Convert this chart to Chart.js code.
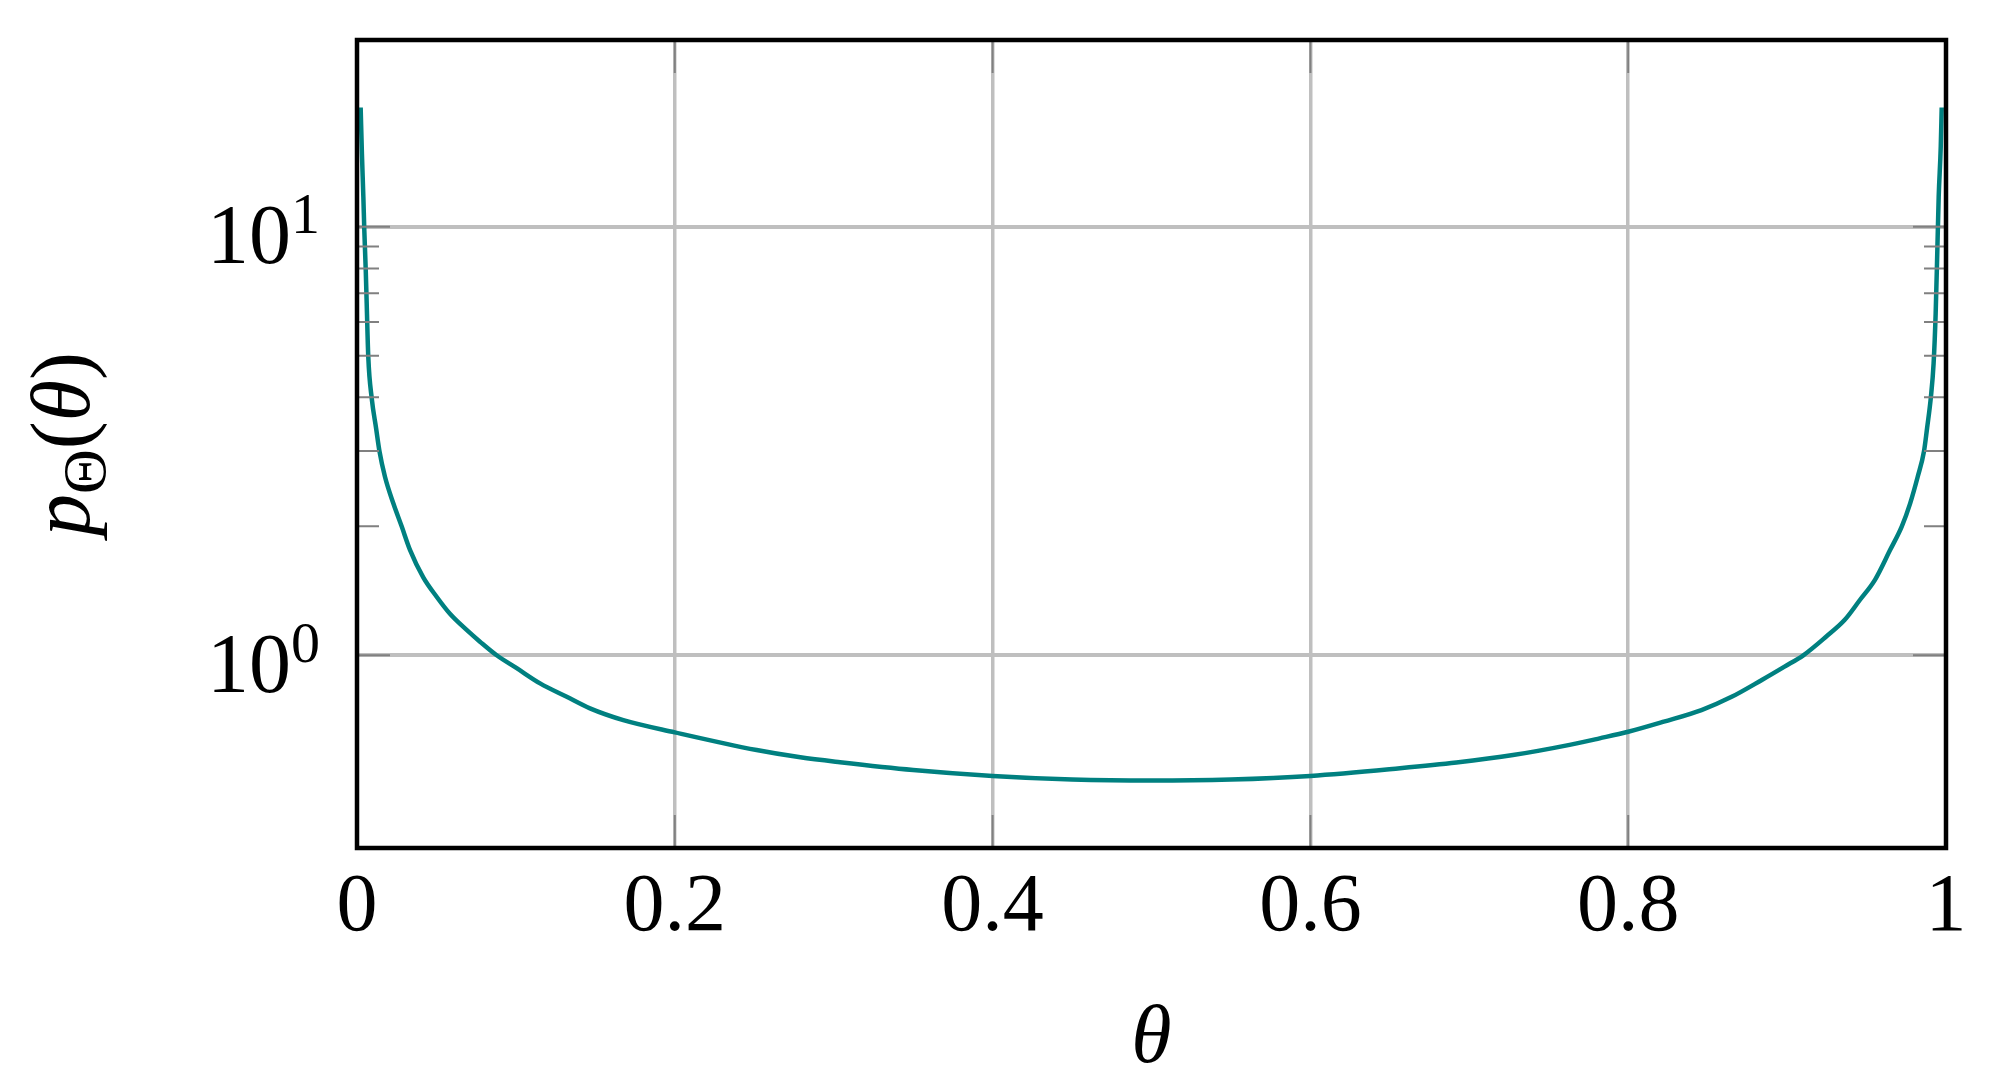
<!DOCTYPE html>
<html>
<head>
<meta charset="utf-8">
<script src="https://cdn.jsdelivr.net/npm/chart.js@4.4.1/dist/chart.umd.min.js"></script>
<style>
  html, body { margin: 0; padding: 0; background: #fff; }
  #wrap { width: 1991px; height: 1089px; }
</style>
</head>
<body>
<div id="wrap"><canvas id="chart"></canvas></div>
<script>
// values
const theta = [
  0.0023, 0.0031, 0.0040, 0.0046, 0.0055, 0.0061, 0.0071, 0.0093, 0.0120, 0.0141,
  0.0176, 0.0229, 0.0281, 0.0334, 0.0417, 0.0501, 0.0585, 0.0690, 0.0774, 0.0879,
  0.1005, 0.1152, 0.1320, 0.1466, 0.1676, 0.2000, 0.2515, 0.2790, 0.3040, 0.3500,
  0.4000, 0.4500, 0.5000, 0.5500, 0.6000, 0.6564, 0.6919, 0.7275, 0.7631, 0.7820,
  0.8000, 0.8224, 0.8461, 0.8651, 0.8841, 0.8984, 0.9102, 0.9245, 0.9363, 0.9458,
  0.9553, 0.9648, 0.9722, 0.9774, 0.9822, 0.9862, 0.9881, 0.9905, 0.9922, 0.9935,
  0.9946, 0.9954, 0.9967, 0.9973
];
const density = [
  19.0, 14.8, 11.75, 9.82, 7.93, 6.63, 4.97, 3.97, 3.39, 3.00,
  2.61, 2.26, 2.00, 1.76, 1.52, 1.37, 1.25, 1.146, 1.076, 1.00,
  0.933, 0.860, 0.800, 0.752, 0.706, 0.661, 0.601, 0.578, 0.563, 0.540,
  0.523, 0.513, 0.510, 0.513, 0.523, 0.545, 0.562, 0.585, 0.618, 0.640,
  0.663, 0.700, 0.745, 0.800, 0.876, 0.941, 1.00, 1.105, 1.21, 1.346,
  1.50, 1.76, 2.00, 2.26, 2.61, 3.00, 3.39, 4.01, 4.80, 6.28,
  8.98, 11.75, 15.4, 19.0
];
const xTicks = [0, 0.2, 0.4, 0.6, 0.8, 1];
const yTicks = [1, 10];
const yTickExp = ['0', '1'];
const yMinorTicks = [2, 3, 4, 5, 6, 7, 8, 9];

const FONT = "'Liberation Serif', 'DejaVu Serif', serif";
const ctx = document.getElementById('chart');

const decorations = {
  id: 'decorations',
  afterDatasetsDraw(chart) {
    const { ctx, chartArea: a, scales: { x, y } } = chart;
    ctx.save();
    // inner ticks
    ctx.strokeStyle = '#808080';
    ctx.lineWidth = 2;
    ctx.beginPath();
    xTicks.forEach((v) => {
      const px = x.getPixelForValue(v);
      ctx.moveTo(px, a.bottom); ctx.lineTo(px, a.bottom - 33);
      ctx.moveTo(px, a.top); ctx.lineTo(px, a.top + 33);
    });
    yTicks.forEach((v) => {
      const py = y.getPixelForValue(v);
      ctx.moveTo(a.left, py); ctx.lineTo(a.left + 33, py);
      ctx.moveTo(a.right, py); ctx.lineTo(a.right - 33, py);
    });
    yMinorTicks.forEach((v) => {
      const py = y.getPixelForValue(v);
      ctx.moveTo(a.left, py); ctx.lineTo(a.left + 22, py);
      ctx.moveTo(a.right, py); ctx.lineTo(a.right - 22, py);
    });
    ctx.stroke();

    // frame
    ctx.strokeStyle = '#000';
    ctx.lineWidth = 4.5;
    ctx.strokeRect(a.left, a.top, a.right - a.left, a.bottom - a.top);

    // y tick labels with superscripts
    ctx.fillStyle = '#000';
    ctx.textBaseline = 'alphabetic';
    ctx.textAlign = 'left';
    yTicks.forEach((v, i) => {
      const py = y.getPixelForValue(v);
      ctx.font = `58px ${FONT}`;
      const supW = ctx.measureText(yTickExp[i]).width;
      ctx.font = `84px ${FONT}`;
      const mainW = ctx.measureText('10').width;
      const right = a.left - 37;
      ctx.fillText('10', right - supW - mainW, py + 36.5);
      ctx.font = `58px ${FONT}`;
      ctx.fillText(yTickExp[i], right - supW, py + 6.5);
    });

    // x axis title
    ctx.font = `italic 82px ${FONT}`;
    ctx.textAlign = 'center';
    ctx.fillText('θ', (a.left + a.right) / 2, 1062);

    // y axis title, rotated
    ctx.translate(89, (a.top + a.bottom) / 2);
    ctx.rotate(-Math.PI / 2);
    ctx.textAlign = 'left';
    const parts = [
      { t: 'p', f: `italic 84px ${FONT}`, dy: 0 },
      { t: 'Θ', f: `62px ${FONT}`, dy: 16 },
      { t: '(', f: `84px ${FONT}`, dy: 0 },
      { t: 'θ', f: `italic 84px ${FONT}`, dy: 0 },
      { t: ')', f: `84px ${FONT}`, dy: 0 },
    ];
    let total = 0;
    parts.forEach((p) => { ctx.font = p.f; p.w = ctx.measureText(p.t).width; total += p.w; });
    let cx = -total / 2;
    parts.forEach((p) => {
      ctx.font = p.f;
      ctx.fillText(p.t, cx, p.dy);
      cx += p.w;
    });
    ctx.restore();
  },
};

new Chart(ctx, {
  type: 'line',
  data: {
    datasets: [
      {
        data: theta.map((t, i) => ({ x: t, y: density[i] })),
        borderColor: '#008080',
        borderWidth: 4.5,
        pointRadius: 0,
        fill: false,
        cubicInterpolationMode: 'monotone',
      },
    ],
  },
  options: {
    responsive: true,
    maintainAspectRatio: false,
    animation: false,
    layout: { padding: { top: 40, right: 45, left: 0, bottom: 0 } },
    plugins: { legend: { display: false }, tooltip: { enabled: false } },
    scales: {
      x: {
        type: 'linear',
        min: 0,
        max: 1,
        afterBuildTicks: (scale) => {
          scale.ticks = xTicks.map((v) => ({ value: v }));
        },
        afterFit: (scale) => { scale.height = 241; },
        grid: { color: '#bfbfbf', lineWidth: 3.5, drawTicks: false },
        border: { display: false },
        ticks: {
          color: '#000',
          font: { family: FONT, size: 82 },
          padding: 11,
          maxRotation: 0,
          callback: (v) => String(v),
        },
      },
      y: {
        type: 'logarithmic',
        min: 0.355,
        max: 27.3,
        afterBuildTicks: (scale) => {
          scale.ticks = yTicks.map((v) => ({ value: v }));
        },
        afterFit: (scale) => { scale.width = 357; },
        grid: { color: '#bfbfbf', lineWidth: 4, drawTicks: false },
        border: { display: false },
        ticks: { display: false },
      },
    },
  },
  plugins: [decorations],
});
</script>
</body>
</html>
